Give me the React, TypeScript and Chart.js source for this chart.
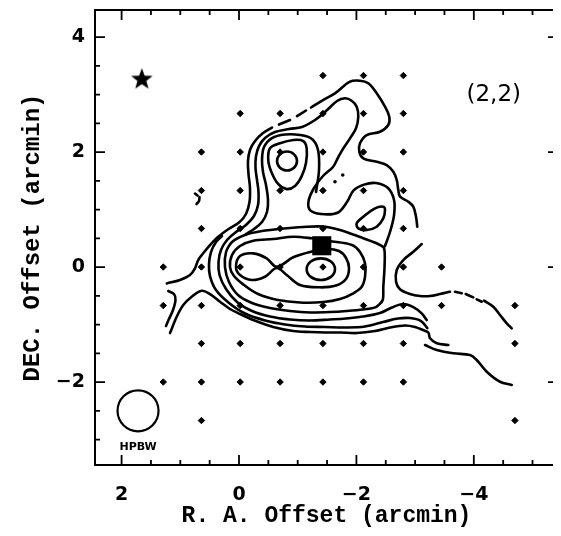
import React, { useEffect, useRef } from "react";
import { Chart, registerables } from "chart.js";

Chart.register(...registerables);

type P = [number, number];

// ---- axes (arcmin) ----
const raRange = { min: -5.434, max: 2.453 };
const decRange = { min: -3.443, max: 4.47 };
const xTickValues = [-4, -2, 0, 2];
const yTickValues = [-2, 0, 2, 4];
const minorStep = 0.5;
const xTitle = "R. A. Offset (arcmin)";
const yTitle = "DEC. Offset (arcmin)";
const panelLabel = "(2,2)";
const panelLabelPos: P = [-4.34, 2.99];

// ---- observed grid positions ----
const colRA = [1.29, 0.64, -0.02, -0.7, -1.43, -2.12, -2.8, -3.45, -4.7]; // A..I
const rowDec = [3.33, 2.67, 2.0, 1.33, 0.67, 0, -0.67, -1.33, -2.0, -2.67];
const rowMask = [
  "....EFG..",
  "..CDEFG..",
  ".BCDEFG..",
  ".BCDEFG..",
  ".BCDEFG..",
  "ABCDEFGH.",
  "ABCDEFGHI",
  ".BCDEFG.I",
  "ABCDEFG..",
  ".B......I",
];

// ---- markers ----
const starPos: P = [1.655, 3.28];
const squarePos: P = [-1.41, 0.37];
const beamPos: P = [1.72, -2.5];
const beamLabelPos: P = [1.72, -3.13];
const beamLabel = "HPBW";
const tinyDots: P[] = [[-1.635, 1.483], [-1.767, 1.6]];

// ---- contours (open) ----
const outerWest: P[] = [[1.23, -0.285], [1.005, -0.226], [0.835, -0.139], [0.75, -0.023], [0.695, 0.122], [0.61, 0.24], [0.494, 0.383], [0.354, 0.527], [0.177, 0.661], [-0.005, 0.777], [-0.119, 0.922], [-0.179, 1.13], [-0.187, 1.374], [-0.162, 1.617], [-0.153, 1.843], [-0.187, 2.035], [-0.273, 2.191], [-0.409, 2.33], [-0.562, 2.426]];
const outerDash1: P[] = [[-0.681, 2.478], [-0.869, 2.557]];
const outerDash2: P[] = [[-0.988, 2.626], [-1.141, 2.722]];
const outerNorth: P[] = [[-1.227, 2.774], [-1.431, 2.904], [-1.635, 3.021], [-1.891, 3.223], [-2.061, 3.24], [-2.203, 3.195], [-2.346, 3.021], [-2.487, 2.788], [-2.56, 2.614], [-2.543, 2.47], [-2.402, 2.353], [-2.175, 2.296], [-2.061, 2.151], [-2.049, 2.005], [-2.118, 1.89], [-2.346, 1.831], [-2.516, 1.774], [-2.629, 1.657], [-2.687, 1.513], [-2.714, 1.339], [-2.743, 1.223], [-2.884, 1.136], [-2.969, 1.049], [-3.015, 0.875], [-3.037, 0.701]];
const outerEast: P[] = [[-3.112, 0.4], [-2.969, 0.266], [-2.799, 0.122], [-2.687, -0.052], [-2.675, -0.256], [-2.743, -0.388], [-2.913, -0.47], [-3.083, -0.504], [-3.254, -0.504], [-3.424, -0.47], [-3.594, -0.43]];
const outerEastDash1: P[] = [[-3.68, -0.43], [-3.794, -0.457]];
const outerEastDash2: P[] = [[-3.862, -0.47], [-3.991, -0.527]];
const outerEastDash3: P[] = [[-4.049, -0.562], [-4.135, -0.603]];
const outerEastTail: P[] = [[-4.174, -0.583], [-4.332, -0.69], [-4.446, -0.835], [-4.561, -0.979], [-4.646, -1.066]];
const outerSouth: P[] = [[1.175, -1.148], [1.061, -0.864], [0.949, -0.661], [0.806, -0.517], [0.635, -0.412], [0.494, -0.47], [0.324, -0.603], [0.153, -0.73], [-0.017, -0.817], [-0.244, -0.922], [-0.584, -1.043], [-0.925, -1.113], [-1.21, -1.13], [-1.465, -1.139], [-1.721, -1.139], [-2.01, -1.148], [-2.317, -1.113], [-2.572, -1.052], [-2.828, -1.017], [-2.998, -1.043], [-3.135, -1.096], [-3.225, -1.139], [-3.254, -1.24], [-3.368, -1.327], [-3.566, -1.357]];
const edgeArc: P[] = [[1.204, -0.417], [1.107, -0.47], [1.082, -0.574], [1.124, -0.748], [1.201, -0.922], [1.244, -1.026]];
const southEastTail: P[] = [[-3.169, -1.357], [-3.368, -1.443], [-3.651, -1.501], [-3.935, -1.53], [-4.049, -1.617], [-4.22, -1.821], [-4.446, -1.995], [-4.646, -2.052]];
const level2: P[] = [[-3.208, -1.061], [-3.101, -0.939], [-2.913, -0.887], [-2.709, -0.896], [-2.453, -0.957], [-2.147, -1.035], [-1.806, -1.052], [-1.465, -1.043], [-1.124, -1.035], [-0.784, -1.0], [-0.443, -0.93], [-0.102, -0.809], [0.17, -0.626], [0.392, -0.4], [0.494, -0.157], [0.511, 0.052], [0.477, 0.261], [0.392, 0.435], [0.29, 0.539]];
const level3: P[] = [[-3.198, -0.922], [-3.112, -0.805], [-2.969, -0.696], [-2.794, -0.643], [-2.606, -0.704], [-2.402, -0.8], [-2.112, -0.861], [-1.823, -0.896], [-1.55, -0.913], [-1.21, -0.93], [-0.869, -0.913], [-0.528, -0.861], [-0.221, -0.765], [0.034, -0.609], [0.221, -0.383], [0.332, -0.139], [0.349, 0.087], [0.307, 0.296], [0.204, 0.47], [0.051, 0.609], [-0.119, 0.73], [-0.256, 0.887], [-0.324, 1.078], [-0.332, 1.304], [-0.307, 1.513], [-0.281, 1.722], [-0.29, 1.93], [-0.341, 2.104], [-0.443, 2.243], [-0.613, 2.348], [-0.852, 2.4], [-1.073, 2.435], [-1.295, 2.557], [-1.482, 2.713], [-1.67, 2.887], [-1.806, 2.934], [-1.92, 2.892], [-2.005, 2.788], [-2.032, 2.614], [-1.993, 2.412], [-1.891, 2.238], [-1.777, 2.064], [-1.692, 1.913], [-1.601, 1.739], [-1.431, 1.583], [-1.278, 1.374], [-1.186, 1.153], [-1.21, 0.991], [-1.397, 0.922], [-1.678, 0.944], [-1.84, 1.13], [-1.952, 1.332], [-2.129, 1.433], [-2.334, 1.461], [-2.538, 1.374], [-2.641, 1.165], [-2.641, 0.904], [-2.572, 0.609], [-2.487, 0.365]];
const level4Flank: P[] = [[-1.312, 1.304], [-1.363, 1.687], [-1.346, 2.035], [-1.244, 2.226], [-1.039, 2.296], [-0.784, 2.304], [-0.562, 2.243], [-0.426, 2.087], [-0.392, 1.861], [-0.409, 1.652], [-0.46, 1.426], [-0.494, 1.165], [-0.477, 0.957], [-0.392, 0.783], [-0.256, 0.661], [-0.119, 0.574]];
const fragmentA: P[] = [[0.75, 1.278], [0.707, 1.243]];
const fragmentB: P[] = [[0.673, 1.217], [0.681, 1.148], [0.724, 1.096]];

// ---- contours (closed) ----
const level4: P[] = [[0.239, 0], [0.221, 0.261], [0.119, 0.435], [-0.102, 0.557], [-0.392, 0.626], [-0.813, 0.673], [-1.153, 0.701], [-1.436, 0.704], [-1.721, 0.643], [-2.061, 0.522], [-2.334, 0.417], [-2.47, 0.33], [-2.479, 0], [-2.458, -0.348], [-2.448, -0.574], [-2.334, -0.696], [-2.112, -0.739], [-1.835, -0.765], [-1.55, -0.783], [-1.21, -0.791], [-0.869, -0.765], [-0.528, -0.713], [-0.221, -0.626], [0.017, -0.487], [0.17, -0.261]];
const level5: P[] = [[0.153, 0], [0.119, 0.209], [-0.017, 0.365], [-0.244, 0.457], [-0.584, 0.487], [-0.925, 0.527], [-1.239, 0.499], [-1.533, 0.452], [-1.925, 0.383], [-2.061, 0.261], [-2.147, 0.064], [-2.147, -0.169], [-2.09, -0.343], [-1.947, -0.457], [-1.721, -0.557], [-1.436, -0.609], [-1.039, -0.617], [-0.664, -0.574], [-0.324, -0.47], [-0.085, -0.313], [0.085, -0.157]];
const level6Pair: P[] = [[0.051, 0], [-0.017, 0.191], [-0.244, 0.238], [-0.472, 0.151], [-0.642, 0.005], [-0.925, 0.169], [-1.21, 0.261], [-1.482, 0.313], [-1.704, 0.278], [-1.823, 0.157], [-1.874, -0.017], [-1.823, -0.209], [-1.652, -0.322], [-1.38, -0.353], [-1.039, -0.313], [-0.813, -0.139], [-0.642, -0.017], [-0.443, -0.169], [-0.216, -0.226], [-0.017, -0.139]];
const level7Core: P[] = [[-1.153, -0.038], [-1.223, 0.095], [-1.394, 0.15], [-1.565, 0.095], [-1.635, -0.038], [-1.565, -0.171], [-1.394, -0.226], [-1.223, -0.171]];
const northPeakInner: P[] = [[-0.648, 1.843], [-0.698, 1.96], [-0.818, 2.008], [-0.938, 1.96], [-0.988, 1.843], [-0.938, 1.726], [-0.818, 1.678], [-0.698, 1.726]];
const northPeakOuter: P[] = [[-0.528, 2.064], [-0.698, 2.151], [-0.925, 2.209], [-1.095, 2.191], [-1.153, 2.064], [-1.141, 1.81], [-1.068, 1.58], [-0.954, 1.41], [-0.813, 1.355], [-0.67, 1.44], [-0.557, 1.64], [-0.499, 1.85]];
const eastLoop: P[] = [[-2.458, 1.049], [-2.317, 1.021], [-2.118, 0.875], [-2.005, 0.76], [-2.032, 0.673], [-2.175, 0.643], [-2.346, 0.701], [-2.458, 0.847], [-2.487, 0.991]];

const openLines: P[][] = [outerWest, outerDash1, outerDash2, outerNorth, outerEast, outerEastDash1, outerEastDash2, outerEastDash3, outerEastTail, outerSouth, edgeArc, southEastTail, level2, level3, level4Flank, fragmentA, fragmentB];
const closedLines: P[][] = [level4, level5, level6Pair, level7Core, northPeakInner, northPeakOuter, eastLoop];

const fmt = (v: number) => (v < 0 ? "\u2212" + Math.abs(v) : String(v));

function openDataset(pts: P[], width = 2.6) {
  return {
    data: pts.map(([x, y]) => ({ x, y })),
    showLine: true,
    borderColor: "#000",
    borderWidth: width,
    pointRadius: 0,
    pointHoverRadius: 0,
    tension: 0.35,
    fill: false,
    borderCapStyle: "round" as const,
    borderJoinStyle: "round" as const,
  };
}

function closedDataset(pts: P[], tension = 0.35) {
  const n = pts.length;
  const seq = [pts[n - 1], ...pts, pts[0], pts[1]];
  const len = seq.length;
  return {
    data: seq.map(([x, y]) => ({ x, y })),
    showLine: true,
    borderColor: "#000",
    borderWidth: 2.6,
    pointRadius: 0,
    pointHoverRadius: 0,
    tension,
    fill: false,
    borderCapStyle: "round" as const,
    borderJoinStyle: "round" as const,
    segment: {
      borderColor: (c: any) => (c.p0DataIndex === 0 || c.p0DataIndex === len - 2 ? "rgba(0,0,0,0)" : "#000"),
    },
  };
}

const framePlugin = {
  id: "frameTicks",
  afterDatasetsDraw(chart: any) {
    const { ctx, chartArea: a, scales } = chart;
    const xs = scales.x;
    const ys = scales.y;
    ctx.save();
    ctx.strokeStyle = "#000";
    ctx.fillStyle = "#000";
    ctx.lineWidth = 2;
    ctx.strokeRect(a.left, a.top, a.right - a.left, a.bottom - a.top);
    ctx.lineWidth = 1.8;
    ctx.beginPath();
    for (let k = Math.ceil(raRange.min / minorStep); k * minorStep <= raRange.max; k++) {
      const p = xs.getPixelForValue(k * minorStep);
      const len = k % 4 === 0 ? 10 : 5;
      ctx.moveTo(p, a.bottom);
      ctx.lineTo(p, a.bottom - len);
      ctx.moveTo(p, a.top);
      ctx.lineTo(p, a.top + len);
    }
    for (let k = Math.ceil(decRange.min / minorStep); k * minorStep <= decRange.max; k++) {
      const p = ys.getPixelForValue(k * minorStep);
      const len = k % 4 === 0 ? 10 : 5;
      ctx.moveTo(a.left, p);
      ctx.lineTo(a.left + len, p);
      ctx.moveTo(a.right, p);
      ctx.lineTo(a.right - len, p);
    }
    ctx.stroke();

    ctx.textAlign = "center";
    ctx.textBaseline = "middle";
    ctx.font = '23px "DejaVu Sans"';
    ctx.fillText(panelLabel, xs.getPixelForValue(panelLabelPos[0]), ys.getPixelForValue(panelLabelPos[1]));
    ctx.font = 'bold 11px "DejaVu Sans"';
    ctx.fillText(beamLabel, xs.getPixelForValue(beamLabelPos[0]), ys.getPixelForValue(beamLabelPos[1]));

    ctx.textBaseline = "alphabetic";
    ctx.font = 'bold 23px "Liberation Mono"';
    ctx.fillText(xTitle, (a.left + a.right) / 2, a.bottom + 57);
    ctx.save();
    ctx.translate(a.left - 56, (a.top + a.bottom) / 2);
    ctx.rotate(-Math.PI / 2);
    ctx.font = 'bold 24px "Liberation Mono"';
    ctx.fillText(yTitle, 0, 0);
    ctx.restore();
    ctx.restore();
  },
};

export default function App() {
  const ref = useRef<HTMLCanvasElement>(null);

  useEffect(() => {
    const canvas = ref.current;
    if (!canvas) return;

    const star = document.createElement("canvas");
    star.width = 26;
    star.height = 26;
    const sc = star.getContext("2d")!;
    sc.beginPath();
    for (let i = 0; i < 10; i++) {
      const r = i % 2 === 0 ? 11.3 : 4.7;
      const ang = -Math.PI / 2 + (i * Math.PI) / 5;
      const px = 13 + r * Math.cos(ang);
      const py = 14 + r * Math.sin(ang);
      if (i === 0) sc.moveTo(px, py);
      else sc.lineTo(px, py);
    }
    sc.closePath();
    sc.fillStyle = "#000";
    sc.fill();

    const gridDots: { x: number; y: number }[] = [];
    rowDec.forEach((dec, r) => {
      rowMask[r].split("").forEach((ch, c) => {
        if (ch !== ".") gridDots.push({ x: colRA[c], y: dec });
      });
    });

    const datasets: any[] = [
      ...openLines.map((l) => openDataset(l)),
      ...closedLines.map((l, i) => closedDataset(l, i === 0 ? 0.25 : 0.35)),
      {
        data: gridDots,
        pointStyle: "rectRot",
        pointRadius: 3.2,
        pointBackgroundColor: "#000",
        pointBorderColor: "#000",
        pointBorderWidth: 1,
        showLine: false,
      },
      {
        data: tinyDots.map(([x, y]) => ({ x, y })),
        pointStyle: "circle",
        pointRadius: 1.8,
        pointBackgroundColor: "#000",
        pointBorderWidth: 0,
        showLine: false,
      },
      {
        data: [{ x: squarePos[0], y: squarePos[1] }],
        pointStyle: "rect",
        pointRadius: 13.5,
        pointBackgroundColor: "#000",
        pointBorderColor: "#000",
        pointBorderWidth: 0,
        showLine: false,
      },
      {
        data: [{ x: starPos[0], y: starPos[1] }],
        pointStyle: star,
        pointRadius: 12,
        showLine: false,
      },
      {
        data: [{ x: beamPos[0], y: beamPos[1] }],
        pointStyle: "circle",
        pointRadius: 20.5,
        pointBackgroundColor: "rgba(0,0,0,0)",
        pointBorderColor: "#000",
        pointBorderWidth: 2.2,
        showLine: false,
      },
    ];

    const tickFont = { family: "DejaVu Sans", weight: "bold" as const, size: 19 };

    const chart = new Chart(canvas, {
      type: "scatter",
      data: { datasets },
      plugins: [framePlugin],
      options: {
        animation: false,
        responsive: false,
        devicePixelRatio: 1,
        events: [],
        layout: { autoPadding: false, padding: { top: 2, right: 3, left: 0, bottom: 0 } },
        plugins: { legend: { display: false }, tooltip: { enabled: false } },
        scales: {
          x: {
            type: "linear",
            reverse: true,
            min: raRange.min,
            max: raRange.max,
            grid: { display: false, drawTicks: false },
            border: { display: false },
            ticks: { autoSkip: false, padding: 19, color: "#000", font: tickFont, maxRotation: 0, callback: (v: any) => fmt(Number(v)) },
            afterBuildTicks: (s: any) => {
              s.ticks = xTickValues.map((v) => ({ value: v }));
            },
            afterFit: (s: any) => {
              s.height = 71;
              s.paddingLeft = 0;
              s.paddingRight = 0;
              s.paddingTop = 0;
              s.paddingBottom = 0;
            },
          },
          y: {
            type: "linear",
            min: decRange.min,
            max: decRange.max,
            grid: { display: false, drawTicks: false },
            border: { display: false },
            ticks: { autoSkip: false, padding: 10, color: "#000", font: tickFont, callback: (v: any) => fmt(Number(v)) },
            afterBuildTicks: (s: any) => {
              s.ticks = yTickValues.map((v) => ({ value: v }));
            },
            afterFit: (s: any) => {
              s.width = 87;
              s.paddingLeft = 0;
              s.paddingRight = 0;
              s.paddingTop = 0;
              s.paddingBottom = 0;
            },
          },
        },
      } as any,
    });

    return () => chart.destroy();
  }, []);

  return (
    <div style={{ width: 553, height: 528 }}>
      <canvas ref={ref} width={553} height={528} style={{ display: "block" }} />
    </div>
  );
}
